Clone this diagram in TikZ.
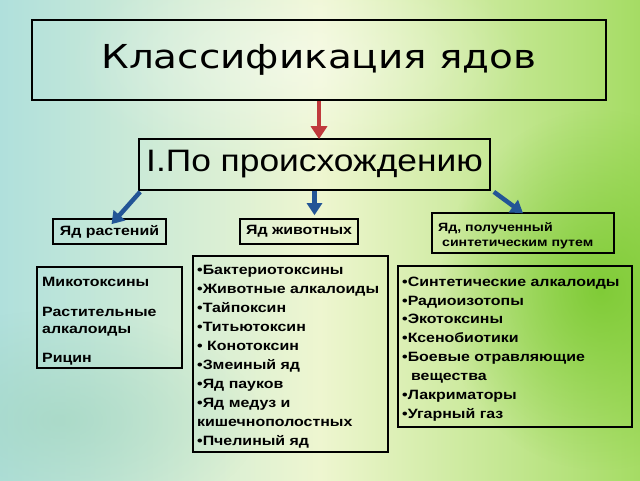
\documentclass[tikz,border=0pt]{standalone}
\usepackage{fontspec}
\setmainfont[FakeStretch=1.18]{Liberation Sans}
\newfontfamily\titlefont[FakeStretch=1.18]{DejaVu Sans}
\newfontfamily\origfont[FakeStretch=1.14]{Liberation Sans}
\usetikzlibrary{arrows.meta,fadings}
\tikzfading[name=softblob, inner color=transparent!0, outer color=transparent!100]
\definecolor{bgL}{RGB}{176,224,220}
\definecolor{bgM}{RGB}{238,246,208}
\definecolor{bgR}{RGB}{165,220,100}
\definecolor{brightG}{RGB}{120,200,45}
\definecolor{tealG}{RGB}{160,212,190}
\definecolor{arrRed}{RGB}{192,58,60}
\definecolor{arrBlue}{RGB}{35,85,150}
\tikzset{
  box/.style={draw=black, line width=1.7pt, inner sep=0pt},
  lab/.style={font=\bfseries\fontsize{12}{15}\selectfont, align=left, inner sep=0pt},
  lst/.style={font=\bfseries\fontsize{13.5}{18.9}\selectfont, align=left, inner sep=0pt, anchor=north west},
  redarr/.style={draw=arrRed, line width=4.5pt, -{Triangle[length=13pt,width=16pt]}},
  bluearr/.style={draw=arrBlue, line width=4.5pt, -{Triangle[length=12pt,width=15pt]}}
}
\begin{document}
\begin{tikzpicture}[x=1pt,y=-1pt]
\useasboundingbox (0,0) rectangle (640,480);
% background
\fill[left color=bgL, right color=bgR, middle color=bgM] (0,0) rectangle (640,480);
\fill[brightG, path fading=softblob, opacity=0.85] (600,290) ellipse (160pt and 180pt);
\fill[tealG, path fading=softblob, opacity=0.6] (60,420) ellipse (200pt and 110pt);
\fill[white, path fading=softblob, opacity=0.45] (300,60) ellipse (230pt and 110pt);
% nodes
\node[box, line width=2pt, minimum width=574pt, minimum height=80pt] (title) at (319,60)
  {\raisebox{-3pt}{\titlefont\fontsize{33}{40}\selectfont Классификация ядов}};
\node[box, minimum width=351pt, minimum height=51pt] (orig) at (314.5,164.5)
  {\raisebox{-2pt}{\origfont\fontsize{31}{36}\selectfont I.По происхождению}};
\node[box, minimum width=113pt, minimum height=25pt] (plants) at (109.5,231.5)
  {\raisebox{-2pt}{\bfseries\fontsize{13.5}{14}\selectfont Яд растений}};
\node[box, minimum width=118pt, minimum height=25pt] (animals) at (299,231.5)
  {\raisebox{-2pt}{\bfseries\fontsize{13.5}{14}\selectfont Яд животных}};
\node[box, minimum width=182pt, minimum height=40pt] (synth) at (523,233) {};
\node[lab, anchor=west] (synthtxt) at (438,235.5) {Яд, полученный\\\ синтетическим путем};
\node[box, minimum width=145pt, minimum height=101pt] (lplant) at (109.5,317.5) {};
\node[box, minimum width=195pt, minimum height=196pt] (lanimal) at (290.5,354) {};
\node[box, minimum width=234pt, minimum height=161pt] (lsynth) at (515,346.5) {};
\node[lst, font=\bfseries\fontsize{13.5}{17.5}\selectfont] (lplanttxt) at (42,277.5)
  {Микотоксины\\[12pt]Растительные\\алкалоиды\\[11pt]Рицин};
\node[lst] (lanimaltxt) at (197,265.5)
  {•Бактериотоксины\\•Животные алкалоиды\\•Тайпоксин\\•Титьютоксин\\• Конотоксин\\•Змеиный яд\\•Яд пауков\\•Яд медуз и\\кишечнополостных\\•Пчелиный яд};
\node[lst] (lsynthtxt) at (402,276.5)
  {•Синтетические алкалоиды\\•Радиоизотопы\\•Экотоксины\\•Ксенобиотики\\•Боевые отравляющие\\\ \ вещества\\•Лакриматоры\\•Угарный газ};
% arrows
\draw[redarr] (title.south) -- ([yshift=-1pt]orig.north -| title.south);
\draw[bluearr] ([xshift=2pt,yshift=-1pt]orig.south west) -- ([xshift=2pt,yshift=-6pt]plants.north);
\draw[bluearr] (orig.south) -- ([yshift=3pt]orig.south |- animals.north);
\draw[bluearr] ([xshift=3pt,yshift=-1pt]orig.south east) -- ([yshift=-1pt]synth.north);
\end{tikzpicture}
\end{document}
